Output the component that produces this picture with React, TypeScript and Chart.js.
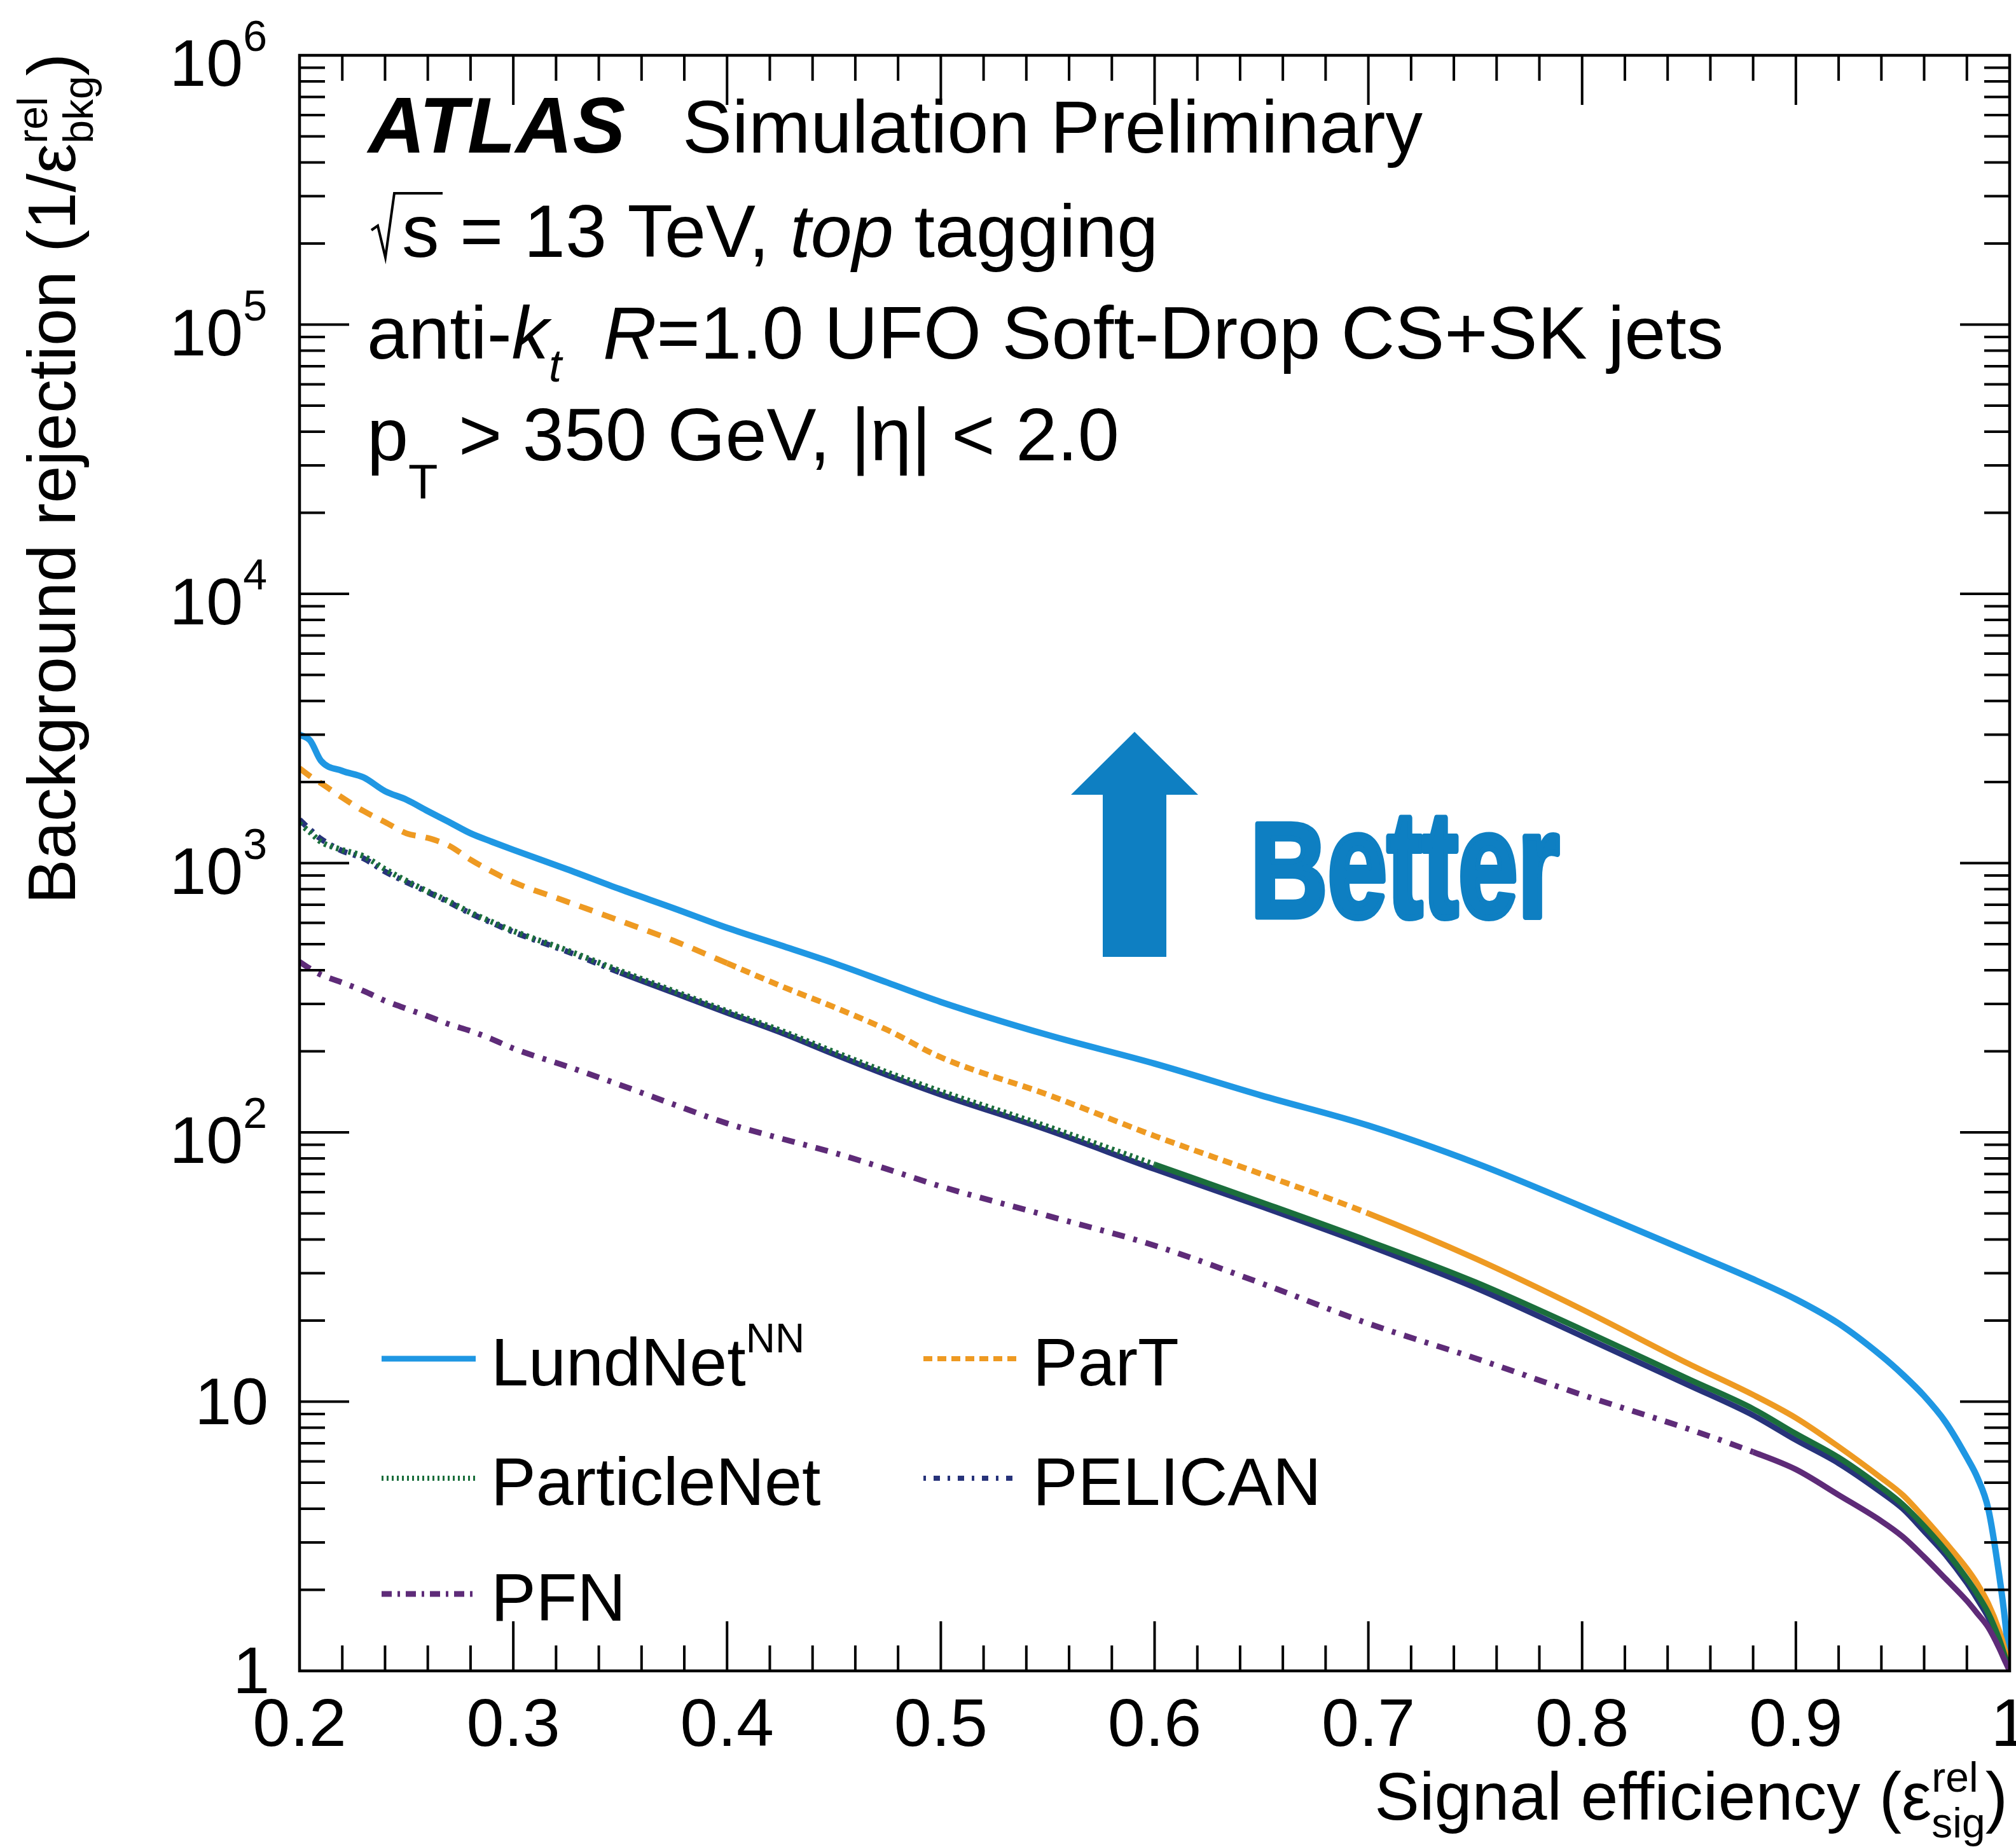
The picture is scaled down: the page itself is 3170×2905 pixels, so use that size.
import React, { useEffect, useRef } from 'react';
import { Chart, registerables } from 'chart.js';

Chart.register(...registerables);

// ---------------- data ----------------
const signalEff = [0.2, 0.205, 0.21, 0.22, 0.23, 0.24, 0.25, 0.26, 0.27, 0.28, 0.29, 0.3, 0.325, 0.35, 0.375, 0.4, 0.425, 0.45, 0.475, 0.5, 0.55, 0.6, 0.65, 0.7, 0.75, 0.8, 0.85, 0.88, 0.9, 0.92, 0.94, 0.95, 0.96, 0.97, 0.98, 0.985, 0.99, 0.995, 0.998, 1.0];

const lundNet = [3000, 2850, 2400, 2200, 2080, 1850, 1720, 1560, 1420, 1290, 1200, 1120, 950, 800, 680, 575, 495, 425, 360, 305, 230, 180, 137, 106, 77, 53, 36, 28.5, 24, 19.5, 14.8, 12.6, 10.5, 8.4, 6.2, 5.2, 4.0, 2.3, 1.5, 1];

const parT = [2250, 2100, 1980, 1750, 1560, 1420, 1290, 1240, 1160, 1030, 930, 850, 720, 610, 515, 425, 350, 292, 240, 190, 138, 97, 70, 50, 34, 22, 13.8, 10.6, 8.7, 6.8, 5.2, 4.5, 3.7, 3.0, 2.4, 2.1, 1.78, 1.42, 1.18, 1];

const particleNet = [1400, 1300, 1200, 1120, 1060, 950, 860, 785, 720, 655, 605, 560, 475, 398, 335, 282, 239, 199, 167, 142, 105, 76, 55, 39.5, 27.8, 18.5, 12.1, 9.4, 7.6, 6.2, 4.8, 4.15, 3.45, 2.8, 2.2, 1.92, 1.64, 1.32, 1.12, 1];

const pelican = [1450, 1330, 1230, 1110, 1040, 930, 850, 780, 715, 650, 600, 555, 470, 392, 330, 278, 235, 195, 163, 138, 102, 73, 53, 38, 26.5, 17.5, 11.5, 8.9, 7.2, 5.9, 4.6, 4.0, 3.3, 2.7, 2.12, 1.84, 1.58, 1.3, 1.1, 1];

const pfn = [430, 405, 385, 360, 335, 308, 288, 270, 252, 238, 222, 205, 176, 150, 127, 108, 95, 84, 73, 63, 49, 38, 27.5, 19.5, 14.5, 10.6, 7.9, 6.5, 5.6, 4.5, 3.6, 3.15, 2.65, 2.2, 1.82, 1.63, 1.45, 1.22, 1.08, 1];

const seriesNames = ['LundNet', 'ParT', 'ParticleNet', 'PELICAN', 'PFN'];
const xTickValues = [0.2, 0.3, 0.4, 0.5, 0.6, 0.7, 0.8, 0.9, 1.0];
const xTickLabels = ['0.2', '0.3', '0.4', '0.5', '0.6', '0.7', '0.8', '0.9', '1'];
const yDecades = [0, 1, 2, 3, 4, 5, 6];

// ---------------- style ----------------
const W = 3170;
const H = 2905;
const FAM = '"Liberation Sans", Arial, Helvetica, sans-serif';
const COL = {
  lund: '#1f97e3',
  parT: '#ee9a22',
  pnet: '#1b6e3c',
  pelican: '#27337a',
  pfn: '#5e2b78',
  better: '#0e7fc2',
};

type Run = { t: string; size: number; b?: boolean; i?: boolean; dy?: number; under?: Run };

const fnt = (r: Run) => `${r.i ? 'italic' : 'normal'} ${r.b ? 'bold' : 'normal'} ${r.size}px ${FAM}`;

function runW(ctx: CanvasRenderingContext2D, r: Run) {
  ctx.font = fnt(r);
  let w = ctx.measureText(r.t).width;
  if (r.under) {
    ctx.font = fnt(r.under);
    w = Math.max(w, ctx.measureText(r.under.t).width);
  }
  return w;
}

function drawRuns(ctx: CanvasRenderingContext2D, x: number, y: number, runs: Run[], align: 'left' | 'right' = 'left') {
  const ws = runs.map((r) => runW(ctx, r));
  const total = ws.reduce((a, b) => a + b, 0);
  let cx = align === 'right' ? x - total : x;
  runs.forEach((r, k) => {
    ctx.font = fnt(r);
    ctx.fillText(r.t, cx, y + (r.dy || 0));
    if (r.under) {
      ctx.font = fnt(r.under);
      ctx.fillText(r.under.t, cx, y + (r.under.dy || 0));
    }
    cx += ws[k];
  });
  return cx;
}

const legendItems = [
  { name: seriesNames[0], color: COL.lund, dash: [] as number[], w: 9, x: 600, y: 2137, sup: 'NN' },
  { name: seriesNames[1], color: COL.parT, dash: [14, 8], w: 8, x: 1452, y: 2137 },
  { name: seriesNames[2], color: COL.pnet, dash: [3, 5], w: 8, x: 600, y: 2325 },
  { name: seriesNames[3], color: COL.pelican, dash: [4, 12, 10, 12], w: 8, x: 1452, y: 2325 },
  { name: seriesNames[4], color: COL.pfn, dash: [16, 9, 4, 9], w: 9, x: 600, y: 2507 },
];

const decor = {
  id: 'decor',
  afterDatasetsDraw(chart: any) {
    const ctx: CanvasRenderingContext2D = chart.ctx;
    const { left, right, top, bottom } = chart.chartArea;
    const xs = chart.scales.x;
    const ys = chart.scales.y;
    ctx.save();
    ctx.strokeStyle = '#000';
    ctx.fillStyle = '#000';
    ctx.setLineDash([]);
    const seg = (x1: number, y1: number, x2: number, y2: number) => {
      ctx.beginPath();
      ctx.moveTo(x1, y1);
      ctx.lineTo(x2, y2);
      ctx.stroke();
    };
    // frame
    ctx.lineWidth = 4.5;
    ctx.strokeRect(left, top, right - left, bottom - top);
    ctx.lineWidth = 4;
    // x ticks
    for (let i = 0; i <= 40; i++) {
      const v = (20 + 2 * i) / 100;
      const px = xs.getPixelForValue(v);
      const len = i % 5 === 0 ? 78 : 40;
      seg(px, bottom, px, bottom - len);
      seg(px, top, px, top + len);
    }
    // y ticks
    yDecades.forEach((d) => {
      const py = ys.getPixelForValue(Math.pow(10, d));
      seg(left, py, left + 78, py);
      seg(right, py, right - 78, py);
      if (d < 6) {
        for (let m = 2; m <= 9; m++) {
          const pm = ys.getPixelForValue(m * Math.pow(10, d));
          seg(left, pm, left + 40, pm);
          seg(right, pm, right - 40, pm);
        }
      }
    });
    // x tick labels
    ctx.textBaseline = 'alphabetic';
    ctx.textAlign = 'center';
    ctx.font = `106px ${FAM}`;
    xTickValues.forEach((v, k) => {
      ctx.fillText(xTickLabels[k], xs.getPixelForValue(v), 2746);
    });
    // y tick labels
    ctx.textAlign = 'left';
    yDecades.forEach((d) => {
      const py = ys.getPixelForValue(Math.pow(10, d));
      if (d === 0) {
        drawRuns(ctx, 424, py + 35, [{ t: '1', size: 104 }], 'right');
      } else if (d === 1) {
        drawRuns(ctx, 422, py + 35, [{ t: '10', size: 104 }], 'right');
      } else {
        drawRuns(ctx, 420, py + 48, [
          { t: '10', size: 104 },
          { t: String(d), size: 68, dy: -55 },
        ], 'right');
      }
    });
    // x axis title
    drawRuns(ctx, 3157, 2862, [
      { t: 'Signal efficiency (\u03b5', size: 106 },
      { t: 'rel', size: 66, dy: -44, under: { t: 'sig', size: 66, dy: 28 } },
      { t: ')', size: 106 },
    ], 'right');
    // y axis title (rotated)
    ctx.save();
    ctx.translate(118, 84);
    ctx.rotate(-Math.PI / 2);
    drawRuns(ctx, 0, 0, [
      { t: 'Background rejection (1/\u03b5', size: 106 },
      { t: 'rel', size: 66, dy: -44, under: { t: 'bkg', size: 66, dy: 28 } },
      { t: ')', size: 106 },
    ], 'right');
    ctx.restore();

    // header text
    const HS = 117;
    drawRuns(ctx, 579, 240, [{ t: 'ATLAS', size: 124, b: true, i: true }]);
    drawRuns(ctx, 1073, 240, [{ t: 'Simulation Preliminary', size: HS }]);
    // sqrt(s)
    ctx.lineWidth = 4;
    ctx.beginPath();
    ctx.moveTo(584, 362);
    ctx.lineTo(594, 355);
    ctx.lineTo(606, 405);
    ctx.lineTo(620, 304);
    ctx.lineTo(696, 304);
    ctx.stroke();
    drawRuns(ctx, 632, 404, [
      { t: 's = 13 TeV, ', size: HS },
      { t: 'top', size: HS, i: true },
      { t: ' tagging', size: HS },
    ]);
    drawRuns(ctx, 577, 564, [
      { t: 'anti-', size: HS },
      { t: 'k', size: HS, i: true },
      { t: 't', size: 72, i: true, dy: 36 },
      { t: '  ', size: HS },
      { t: 'R', size: HS, i: true },
      { t: '=1.0 UFO Soft-Drop CS+SK jets', size: HS },
    ]);
    drawRuns(ctx, 577, 724, [
      { t: 'p', size: HS },
      { t: 'T', size: 76, dy: 60 },
      { t: ' > 350 GeV, |\u03b7| < 2.0', size: HS },
    ]);

    // legend
    legendItems.forEach((it) => {
      ctx.save();
      ctx.strokeStyle = it.color;
      ctx.lineWidth = it.w;
      ctx.setLineDash(it.dash);
      ctx.beginPath();
      ctx.moveTo(it.x, it.y);
      ctx.lineTo(it.x + 148, it.y);
      ctx.stroke();
      ctx.restore();
      const runs: Run[] = [{ t: it.name, size: 106 }];
      if (it.sup) runs.push({ t: it.sup, size: 64, dy: -52 });
      drawRuns(ctx, it.x + 172, it.y + 42, runs);
    });

    // arrow
    ctx.fillStyle = COL.better;
    ctx.beginPath();
    ctx.moveTo(1784, 1151);
    ctx.lineTo(1884, 1250);
    ctx.lineTo(1834, 1250);
    ctx.lineTo(1834, 1505);
    ctx.lineTo(1734, 1505);
    ctx.lineTo(1734, 1250);
    ctx.lineTo(1684, 1250);
    ctx.closePath();
    ctx.fill();
    // "Better"
    ctx.font = `bold 212px ${FAM}`;
    const wB = ctx.measureText('B').width;
    const wRest = ctx.measureText('etter').width;
    const sx = 486 / (wB + wRest);
    ctx.save();
    ctx.translate(1966, 1442);
    ctx.scale(sx, 1);
    ctx.strokeStyle = COL.better;
    ctx.lineWidth = 9;
    ctx.lineJoin = 'round';
    ctx.fillText('B', 0, 0);
    ctx.strokeText('B', 0, 0);
    ctx.translate(wB, 0);
    ctx.scale(1, 1.12);
    ctx.fillText('etter', 0, 0);
    ctx.strokeText('etter', 0, 0);
    ctx.restore();

    ctx.restore();
  },
};

export default function App() {
  const ref = useRef<HTMLCanvasElement>(null);
  useEffect(() => {
    document.body.style.margin = '0';
    const canvas = ref.current!;
    const mk = (vals: number[]) => signalEff.map((x, i) => ({ x, y: vals[i] }));
    const common = { pointRadius: 0, cubicInterpolationMode: 'monotone' as const, fill: false, borderCapStyle: 'butt' as const };
    const dashBy = (stages: { from: number; dash: number[] }[]) => (c: any) => {
      const x = c.p0.parsed.x;
      let d: number[] = [];
      stages.forEach((s) => {
        if (x >= s.from) d = s.dash;
      });
      return d;
    };
    const chart = new Chart(canvas, {
      type: 'line',
      data: {
        datasets: [
          { ...common, label: seriesNames[0], data: mk(lundNet), borderColor: COL.lund, borderWidth: 10, order: 5 },
          {
            ...common, label: seriesNames[1], data: mk(parT), borderColor: COL.parT, borderWidth: 9, order: 4,
            segment: { borderDash: dashBy([{ from: 0, dash: [22, 16] }, { from: 0.4, dash: [15, 9] }, { from: 0.68, dash: [] }]) },
          },
          {
            ...common, label: seriesNames[2], data: mk(particleNet), borderColor: COL.pnet, borderWidth: 9, order: 2,
            segment: { borderDash: dashBy([{ from: 0, dash: [4, 6] }, { from: 0.6, dash: [] }]) },
          },
          {
            ...common, label: seriesNames[3], data: mk(pelican), borderColor: COL.pelican, borderWidth: 9, order: 3,
            segment: { borderDash: dashBy([{ from: 0, dash: [14, 10, 5, 10] }, { from: 0.33, dash: [] }]) },
          },
          {
            ...common, label: seriesNames[4], data: mk(pfn), borderColor: COL.pfn, borderWidth: 9, order: 1,
            segment: { borderDash: dashBy([{ from: 0, dash: [20, 14, 6, 14] }, { from: 0.87, dash: [] }]) },
          },
        ],
      },
      options: {
        responsive: false,
        animation: false,
        devicePixelRatio: 1,
        layout: { padding: { left: 471, right: 10, top: 87, bottom: 277 } },
        plugins: { legend: { display: false }, tooltip: { enabled: false } },
        scales: {
          x: { type: 'linear', min: 0.2, max: 1.0, display: false },
          y: { type: 'logarithmic', min: 1, max: 1e6, display: false },
        },
      },
      plugins: [decor],
    });
    return () => chart.destroy();
  }, []);
  return <canvas ref={ref} width={W} height={H} style={{ display: 'block', width: W, height: H }} />;
}
